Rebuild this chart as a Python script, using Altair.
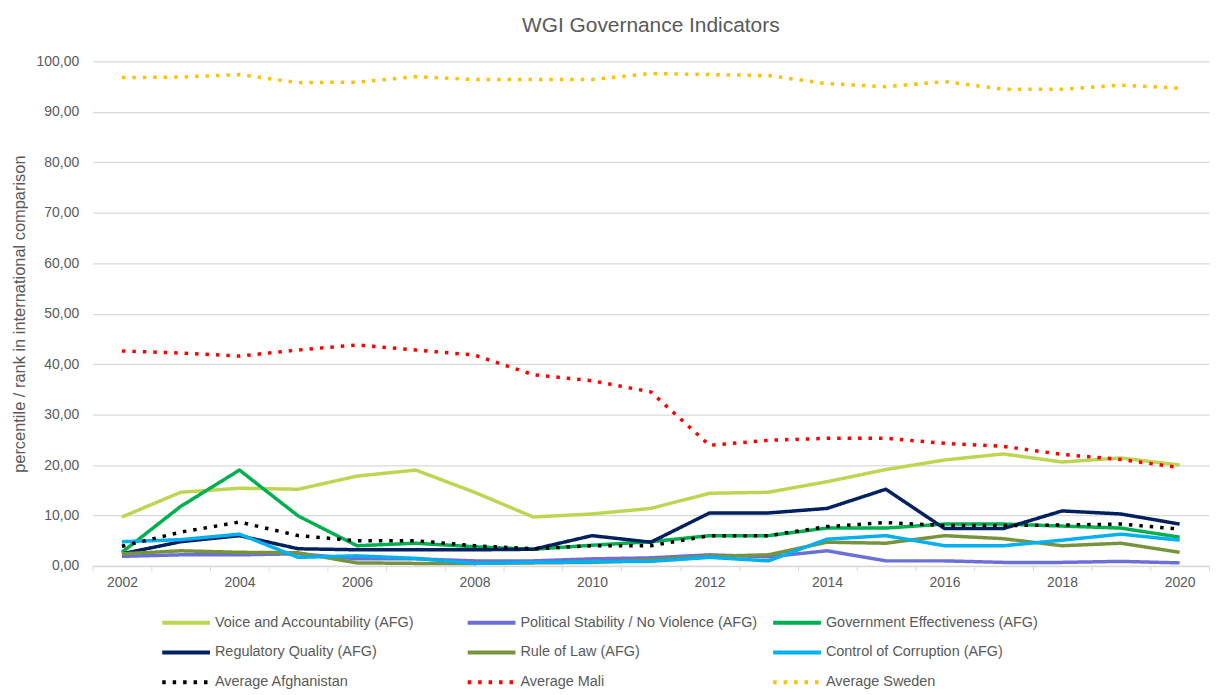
import altair as alt
import pandas as pd

years = list(range(2002, 2021))

series_names = [
    "Voice and Accountability (AFG)",
    "Political Stability / No Violence (AFG)",
    "Government Effectiveness (AFG)",
    "Regulatory Quality (AFG)",
    "Rule of Law (AFG)",
    "Control of Corruption (AFG)",
    "Average Afghanistan",
    "Average Mali",
    "Average Sweden",
]

voice = [9.7, 14.6, 15.4, 15.2, 17.8, 19.0, 14.6, 9.7, 10.3, 11.4, 14.4, 14.6, 16.7, 19.1, 21.0, 22.2, 20.6, 21.4, 20.0]
polstab = [1.9, 2.2, 2.2, 2.4, 1.4, 1.4, 1.0, 1.0, 1.4, 1.6, 2.2, 1.8, 3.0, 1.0, 1.0, 0.7, 0.7, 0.9, 0.6]
goveff = [2.7, 11.8, 19.0, 9.9, 4.0, 4.5, 3.8, 3.3, 4.1, 4.8, 6.0, 6.0, 7.5, 7.5, 8.3, 8.3, 7.9, 7.5, 5.7]
regqual = [2.4, 4.8, 6.0, 3.4, 3.2, 3.2, 3.2, 3.3, 6.0, 4.7, 10.5, 10.5, 11.4, 15.2, 7.4, 7.4, 10.9, 10.3, 8.3]
rulelaw = [2.4, 3.0, 2.7, 2.6, 0.6, 0.5, 0.5, 0.6, 0.7, 1.2, 1.9, 2.2, 4.7, 4.5, 6.0, 5.4, 4.0, 4.5, 2.7]
corruption = [4.8, 5.2, 6.3, 1.7, 2.0, 1.5, 0.5, 0.7, 0.8, 0.9, 1.7, 1.0, 5.3, 6.0, 4.0, 4.0, 5.1, 6.3, 5.1]
avg_afg = [3.9, 6.7, 8.7, 6.0, 5.0, 5.0, 4.0, 3.4, 4.0, 4.0, 6.0, 6.0, 7.8, 8.6, 8.0, 8.0, 8.1, 8.3, 7.3]
avg_mali = [42.6, 42.2, 41.6, 42.8, 43.8, 42.8, 41.8, 37.9, 36.7, 34.5, 23.9, 24.9, 25.3, 25.3, 24.3, 23.7, 22.1, 21.1, 19.5]
avg_sweden = [96.8, 96.9, 97.4, 95.8, 95.9, 97.0, 96.4, 96.4, 96.4, 97.6, 97.4, 97.2, 95.6, 95.0, 96.0, 94.5, 94.5, 95.3, 94.7]

all_values = [voice, polstab, goveff, regqual, rulelaw, corruption, avg_afg, avg_mali, avg_sweden]

colors = ["#BDD652", "#6B6FD8", "#00B050", "#002060", "#77933C", "#00B0F0", "#000000", "#FF0000", "#FFC000"]
dashes = [[1, 0]] * 6 + [[3.5, 7]] * 3

rows = []
for name, vals in zip(series_names, all_values):
    for yr, v in zip(years, vals):
        rows.append({"year": yr, "series": name, "value": v})
df = pd.DataFrame(rows)

FONT = "Liberation Sans"
GREY = "#595959"

legend_def = alt.Legend(
    title=None,
    orient="none",
    direction="horizontal",
    legendX=80,
    legendY=550,
    columns=3,
    gridAlign="all",
    columnPadding=7,
    rowPadding=8,
    symbolType="M-2,0H2",
    symbolSize=576,
    symbolStrokeWidth=4,
    labelFont=FONT,
    labelFontSize=14.5,
    labelColor=GREY,
    labelOffset=15,
    labelLimit=400,
)

chart = alt.Chart(df).mark_line(strokeWidth=3.5, strokeJoin="round").encode(
    x=alt.X(
        "year:O",
        scale=alt.Scale(type="band", paddingInner=0, paddingOuter=0),
        axis=alt.Axis(
            title=None,
            labelAngle=0,
            labelExpr="datum.value % 2 == 0 ? datum.label : ''",
            tickBand="extent",
            ticks=True,
            tickSize=5,
            tickColor="#D9D9D9",
            domainColor="#D9D9D9",
            domainWidth=1.5,
            grid=False,
            labelFont=FONT,
            labelFontSize=14,
            labelColor=GREY,
            labelPadding=5,
        ),
    ),
    y=alt.Y(
        "value:Q",
        scale=alt.Scale(domain=[0, 100], nice=False),
        axis=alt.Axis(
            title="percentile / rank in international comparison",
            titleFont=FONT,
            titleFontSize=16.5,
            titleFontWeight="normal",
            titleColor=GREY,
            titlePadding=9,
            values=list(range(0, 101, 10)),
            labelExpr="replace(format(datum.value, '.2f'), '.', ',')",
            labelFont=FONT,
            labelFontSize=14,
            labelColor=GREY,
            labelPadding=14,
            domain=False,
            ticks=False,
            gridColor="#D9D9D9",
            gridWidth=1.2,
        ),
    ),
    color=alt.Color(
        "series:N",
        sort=series_names,
        scale=alt.Scale(domain=series_names, range=colors),
        legend=legend_def,
    ),
    strokeDash=alt.StrokeDash(
        "series:N",
        sort=series_names,
        scale=alt.Scale(domain=series_names, range=dashes),
        legend=legend_def,
    ),
).properties(
    width=1122,
    height=507,
    title=alt.TitleParams(
        "WGI Governance Indicators",
        font=FONT,
        fontSize=21,
        fontWeight="normal",
        color=GREY,
        anchor="middle",
        offset=19,
    ),
    padding={"left": 3, "right": 0, "top": 5, "bottom": 0},
).configure_view(stroke=None)

chart.save("out.html", embed_options={"renderer": "svg", "actions": False})
